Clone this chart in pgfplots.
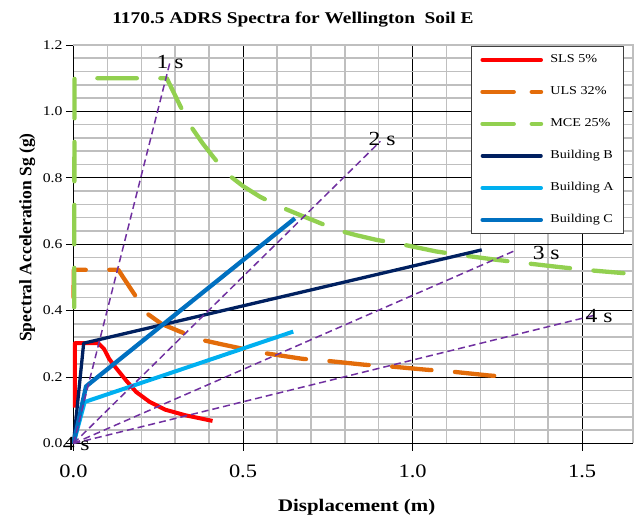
\documentclass[border=0pt]{standalone}
\usepackage{fontspec}
\setmainfont{Liberation Serif}
\newfontfamily\strf[FakeStretch=1.18]{Liberation Serif}
\usepackage{pgfplots}
\pgfplotsset{compat=1.18}
\definecolor{cRed}{HTML}{FF0000}
\definecolor{cOrange}{HTML}{E36C0A}
\definecolor{cGreen}{HTML}{92D050}
\definecolor{cNavy}{HTML}{002060}
\definecolor{cLight}{HTML}{00B0F0}
\definecolor{cBlue}{HTML}{0070C0}
\definecolor{cPurple}{HTML}{7030A0}
\definecolor{gridgray}{HTML}{BFBFBF}
\begin{document}
\begin{tikzpicture}
\begin{axis}[
  scale only axis, width=559.5pt, height=398.5pt,
  xmin=0, xmax=1.65, ymin=0, ymax=1.2,
  xtick={0,0.5,1,1.5}, ytick={0,0.2,0.4,0.6,0.8,1.0,1.2},
  minor x tick num=4, minor y tick num=4,
  grid=both,
  minor grid style={draw=gridgray, line width=1.6pt},
  major grid style={draw=black, line width=0.8pt},
  axis x line*=bottom, axis y line*=left,
  axis line style={black, line width=1pt, -},
  tick align=outside, major tick length=7.5pt, minor tick length=0pt,
  tick style={black, line width=0.8pt},
  /pgf/number format/fixed, /pgf/number format/fixed zerofill,
  /pgf/number format/precision=1, /pgf/number format/assume math mode=true,
  xticklabel style={font=\strf\fontsize{19}{19}\selectfont, yshift=-10pt},
  yticklabel style={font=\strf\fontsize{13.3}{13.3}\selectfont},
  clip=false,
  legend style={at={(0.984,0.9975)}, anchor=north east, draw=black!75, line width=0.8pt,
    fill=white, font=\strf\fontsize{12}{12}\selectfont, inner xsep=9pt, inner ysep=7pt,
    row sep=19pt, column sep=6pt, cells={anchor=west},
    nodes={inner sep=1pt, text height=8.5pt, text depth=2.5pt}},
  legend cell align=left,
]
\coordinate (SW) at (rel axis cs:0,0);
\coordinate (NE) at (rel axis cs:1,1);
\draw[gridgray, line width=1.6pt] (rel axis cs:0,1) -- (rel axis cs:1,1) -- (rel axis cs:1,0);

\addplot[cRed, line width=4pt, line join=round,
  legend image code/.code={\draw[cRed, line width=4pt, line cap=round] (0pt,0pt) -- (58.5pt,0pt);}]
  coordinates {(0.004,0.108)(0.004,0.302)(0.073,0.302)(0.09,0.285)(0.105,0.255)(0.125,0.228)(0.155,0.19)(0.185,0.155)(0.225,0.125)(0.27,0.102)(0.33,0.085)(0.41,0.068)};
\addlegendentry{SLS 5\%}

\addplot[cOrange, line width=4.3pt, line cap=round, line join=round, dash pattern=on 39.5pt off 23.5pt,
  legend image code/.code={\draw[cOrange, line width=4.3pt, line cap=round, dash pattern=on 31.3pt off 18pt on 9.3pt off 60pt] (0pt,0pt) -- (58.7pt,0pt);}]
  coordinates {(0,0.44)(0.001,0.523)(0.132,0.523)(0.181,0.447)(0.216,0.392)(0.26,0.36)(0.314,0.337)(0.378,0.312)(0.44,0.298)(0.491,0.287)(0.558,0.273)(0.675,0.255)(0.737,0.25)(0.86,0.237)(0.924,0.233)(1.042,0.222)(1.101,0.218)(1.224,0.205)(1.288,0.2)};
\addlegendentry{ULS 32\%}

\addplot[cGreen, line width=4.3pt, line cap=round, line join=round, dash pattern=on 39.5pt off 23.5pt,
  legend image code/.code={\draw[cGreen, line width=4.3pt, line cap=round, dash pattern=on 31.3pt off 18pt on 9.3pt off 60pt] (0pt,0pt) -- (58.7pt,0pt);}]
  coordinates {(0.002,0.41)(0.003,1.1)(0.275,1.1)(0.314,1.018)(0.344,0.958)(0.38,0.905)(0.412,0.863)(0.452,0.813)(0.50,0.775)(0.55,0.743)(0.609,0.713)(0.668,0.688)(0.717,0.668)(0.776,0.643)(0.835,0.627)(0.894,0.613)(0.953,0.603)(1.071,0.578)(1.16,0.565)(1.248,0.553)(1.35,0.541)(1.435,0.531)(1.53,0.521)(1.622,0.513)};
\addlegendentry{MCE 25\%}

\addplot[cNavy, line width=3.3pt, line join=round,
  legend image code/.code={\draw[cNavy, line width=3.6pt, line cap=round] (0pt,0pt) -- (58.5pt,0pt);}]
  coordinates {(0,0)(0.03,0.302)(1.204,0.583)};
\addlegendentry{Building B}

\addplot[cLight, line width=4pt, line join=round,
  legend image code/.code={\draw[cLight, line width=4pt, line cap=round] (0pt,0pt) -- (58.5pt,0pt);}]
  coordinates {(0,0)(0.033,0.125)(0.648,0.337)};
\addlegendentry{Building A}

\addplot[cBlue, line width=4.3pt, line join=round,
  legend image code/.code={\draw[cBlue, line width=4pt, line cap=round] (0pt,0pt) -- (58.5pt,0pt);}]
  coordinates {(0,0)(0.037,0.172)(0.653,0.678)};
\addlegendentry{Building C}

\addplot[forget plot, cPurple, line width=1.5pt, dash pattern=on 7pt off 4pt] coordinates {(0,0)(0.285,1.15)};
\addplot[forget plot, cPurple, line width=1.5pt, dash pattern=on 7pt off 4pt] coordinates {(0,0)(0.905,0.91)};
\addplot[forget plot, cPurple, line width=1.5pt, dash pattern=on 7pt off 4pt] coordinates {(0,0)(1.30,0.58)};
\addplot[forget plot, cPurple, line width=1.5pt, dash pattern=on 7pt off 4pt] coordinates {(0,0)(1.54,0.387)};

\node[font=\strf\fontsize{20}{20}\selectfont, inner sep=0pt] at (axis cs:0.285,1.15) {1 s};
\node[font=\strf\fontsize{20}{20}\selectfont, inner sep=0pt] at (axis cs:0.91,0.916) {2 s};
\node[font=\strf\fontsize{20}{20}\selectfont, inner sep=0pt] at (axis cs:1.394,0.573) {3 s};
\node[font=\strf\fontsize{20}{20}\selectfont, inner sep=0pt] at (axis cs:1.55,0.384) {4 s};
\node[font=\strf\fontsize{20}{20}\selectfont, inner sep=0pt] at (axis cs:0.008,-0.003) {4 s};
\end{axis}
\node[font=\strf\bfseries\fontsize{16.4}{16.4}\selectfont, anchor=base] at ([shift={(219.5pt,420pt)}]SW) {1170.5 ADRS Spectra for Wellington\ \ Soil E};
\node[font=\strf\bfseries\fontsize{17.7}{17.7}\selectfont, anchor=base] at ([shift={(283.2pt,-68pt)}]SW) {Displacement (m)};
\node[font=\bfseries\fontsize{17.5}{17.5}\selectfont, anchor=base, rotate=90] at ([shift={(-42pt,206pt)}]SW) {Spectral Acceleration Sg (g)};
\pgfresetboundingbox
\useasboundingbox ([shift={(-73.5pt,-75.5pt)}]SW) rectangle ([shift={(2pt,45pt)}]NE);
\end{tikzpicture}
\end{document}
